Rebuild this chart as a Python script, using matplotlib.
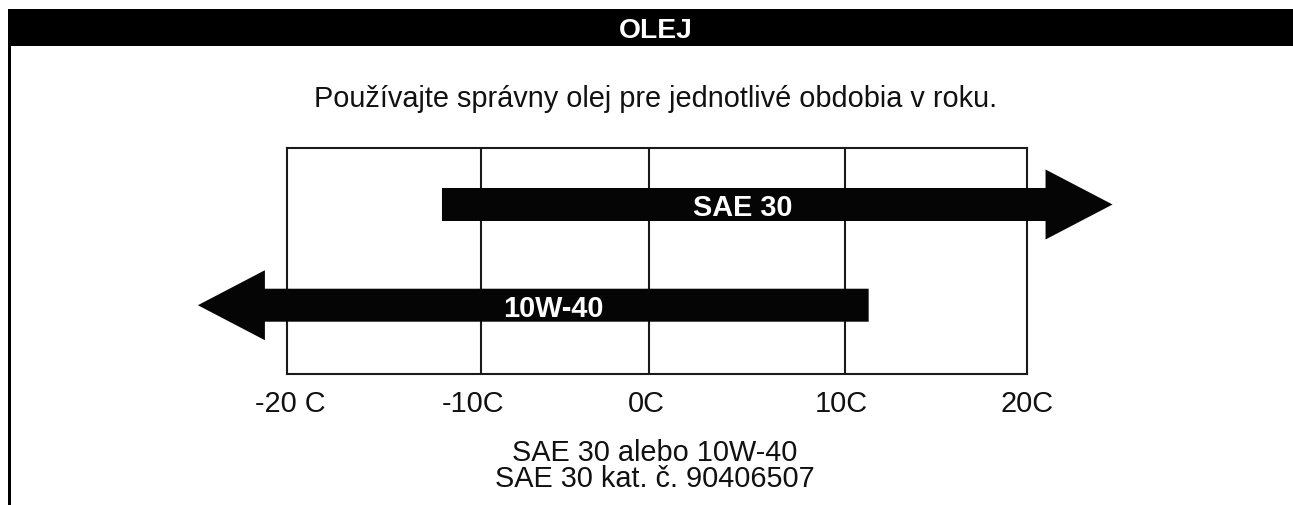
import numpy as np
import matplotlib
matplotlib.use("Agg")
import matplotlib.pyplot as plt
from matplotlib.patches import Polygon, Rectangle
from matplotlib.transforms import IdentityTransform, ScaledTranslation

# ---- data ----
title = "OLEJ"
subtitle = "Používajte správny olej pre jednotlivé obdobia v roku."
temps = [-20, -10, 0, 10, 20]
tick_labels = ["-20 C", "-10C", "0C", "10C", "20C"]
oils = ["SAE 30", "10W-40"]
arrow_from = [-12.0, 11.3]   # blunt end of each arrow (°C)
arrow_to = [24.7, -24.6]     # tip of each arrow (°C)
footer = ["SAE 30 alebo 10W-40", "SAE 30 kat. č. 90406507"]

FONT = ["Liberation Sans", "DejaVu Sans"]
plt.rcParams["font.family"] = FONT
FS = 20.8

W, H, DPI = 1293, 506, 100
fig = plt.figure(figsize=(W / DPI, H / DPI), dpi=DPI)

# overlay axes in pixel coordinates (top-left origin) for the frame/texts
ov = fig.add_axes([0, 0, 1, 1])
ov.set_xlim(0, W)
ov.set_ylim(H, 0)
ov.axis("off")
ov.add_patch(Rectangle((8, 10), W - 8, 37, color="black", lw=0))
ov.add_patch(Rectangle((8, 47), 3, H - 47, color="black", lw=0))
ov.text(656, 38, title, color="white", fontsize=20.3, fontweight="bold",
        ha="center", va="baseline")
ov.text(656, 107, subtitle, color="#111111", fontsize=FS,
        ha="center", va="baseline")
ov.text(655, 461.5, footer[0], color="#111111", fontsize=FS,
        ha="center", va="baseline")
ov.text(655, 487.5, footer[1], color="#111111", fontsize=FS,
        ha="center", va="baseline")

# chart axes: box from x=287..1027, y=149..375 px
L, R, T, B = 287, 1027, 149, 375
ax = fig.add_axes([L / W, (H - B) / H, (R - L) / W, (B - T) / H])

# the printed scale is slightly non-uniform; map °C -> position piecewise
T_K = [-40, -20, -10, 0, 10, 20, 40]
P_K = [-100.4, 287, 480.7, 648.7, 845, 1027, 1391]
fwd = lambda x: np.interp(x, T_K, P_K)
inv = lambda p: np.interp(p, P_K, T_K)
ax.set_xscale("function", functions=(fwd, inv))
ax.set_xlim(temps[0], temps[-1])
ax.set_ylim(1.683, -0.561)

for s in ax.spines.values():
    s.set_linewidth(1.5)
    s.set_color("#1a1a1a")
for t in temps[1:-1]:
    ax.axvline(t, color="#1a1a1a", lw=1.5, zorder=1)

ax.set_xticks(temps)
ax.set_xticklabels(tick_labels, fontsize=FS, color="#111111")
ax.tick_params(axis="x", length=0, pad=11)
ax.set_yticks([])
# small horizontal nudges of the printed labels (pixels)
nudge = [3, -8, -2, -4, 0]
for lab, dx in zip(ax.get_xticklabels(), nudge):
    lab.set_transform(lab.get_transform() +
                      ScaledTranslation(dx / DPI, 0, fig.dpi_scale_trans))

fig.canvas.draw()
HEAD_LEN, HEAD_HALF, BAR_HALF = 67, 35, 16.5
label_x = [4.8, -5.7]
for i, name in enumerate(oils):
    (x0, yc), = ax.transData.transform([(arrow_from[i], i)])
    (x1, _), = ax.transData.transform([(arrow_to[i], i)])
    d = np.sign(x1 - x0)
    xb = x1 - d * HEAD_LEN
    pts = [(x0, yc - BAR_HALF), (xb, yc - BAR_HALF), (xb, yc - HEAD_HALF),
           (x1, yc), (xb, yc + HEAD_HALF), (xb, yc + BAR_HALF),
           (x0, yc + BAR_HALF)]
    poly = Polygon(pts, closed=True, transform=IdentityTransform(),
                   facecolor="#050505", edgecolor="none", clip_on=False,
                   zorder=3)
    ax.add_patch(poly)
    ax.text(label_x[i], i, name, color="white", fontsize=FS,
            fontweight="bold", ha="center", va="center_baseline", zorder=4)

fig.savefig("out.png", dpi=DPI, facecolor="white")
